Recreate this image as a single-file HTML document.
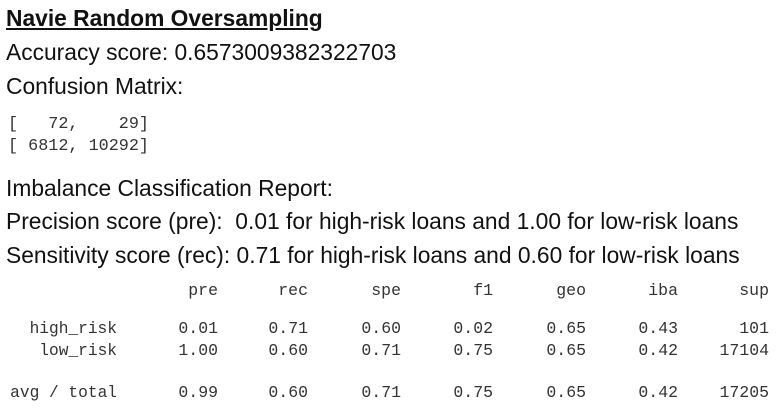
<!DOCTYPE html>
<html><head><meta charset="utf-8"><style>
body{margin:0;width:780px;height:411px;background:#fff;position:relative;overflow:hidden}
.t{position:absolute;left:6px;font-family:"Liberation Sans",Arial,sans-serif;font-size:22.8px;color:#111;line-height:24px;white-space:pre}
.m{position:absolute;font-family:"Liberation Mono",monospace;font-size:16.5px;color:#333;line-height:20px;white-space:pre}
.r{text-align:right}
</style></head><body>
<div class="t" style="top:6px;font-weight:bold;text-decoration:underline">Navie Random Oversampling</div>
<div class="t" style="top:40px">Accuracy score: 0.6573009382322703</div>
<div class="t" style="top:74px">Confusion Matrix:</div>
<div class="m" style="left:8px;top:114px;line-height:22px;font-size:16.8px">[   72,    29]
[ 6812, 10292]</div>
<div class="t" style="top:176px">Imbalance Classification Report:</div>
<div class="t" style="top:209px">Precision score (pre):  0.01 for high-risk loans and 1.00 for low-risk loans</div>
<div class="t" style="top:243px">Sensitivity score (rec): 0.71 for high-risk loans and 0.60 for low-risk loans</div>
<div id="tbl"></div>
<script>
const headers=["pre","rec","spe","f1","geo","iba","sup"];
const rowLabels=["high_risk","low_risk","avg / total"];
const rows=[["0.01","0.71","0.60","0.02","0.65","0.43","101"],["1.00","0.60","0.71","0.75","0.65","0.42","17104"],["0.99","0.60","0.71","0.75","0.65","0.42","17205"]];
const colRight=[218,308,401,493,586,678,769];
const rowY=[281,319,341,383];
const tbl=document.getElementById('tbl');
function cell(txt,right,top,name,fs){const d=document.createElement('div');d.className='m r';d.style.right=(780-right)+'px';d.style.top=top+'px';d.textContent=txt;if(fs)d.style.fontSize=fs+'px';


tbl.appendChild(d);}
headers.forEach((h,i)=>cell(h,colRight[i],rowY[0],'header-'+h));
rows.forEach((r,j)=>{cell(rowLabels[j],117,rowY[j+1],'row-label',16.2);r.forEach((v,i)=>cell(v,colRight[i],rowY[j+1],'cell-'+headers[i]));});
</script>
</body></html>
